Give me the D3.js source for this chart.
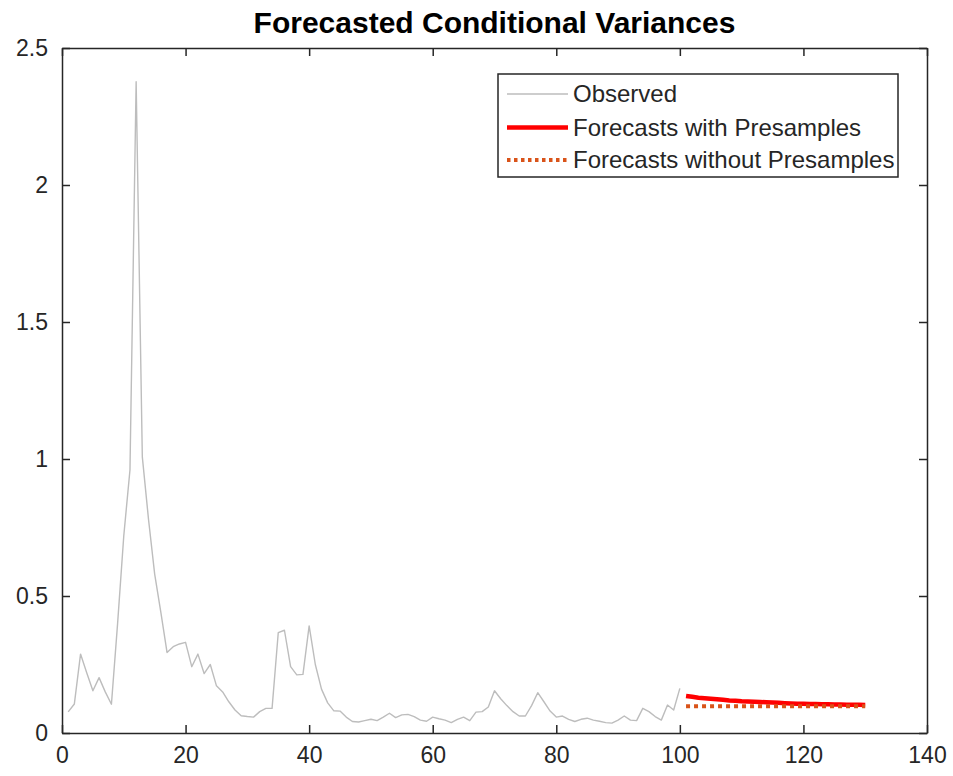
<!DOCTYPE html>
<html>
<head>
<meta charset="utf-8">
<script src="https://cdn.jsdelivr.net/npm/d3@7"></script>
<style>
  html, body { margin: 0; padding: 0; background: #fff; }
  svg { display: block; }
  text { font-family: "Liberation Sans", Arial, Helvetica, sans-serif; }
</style>
</head>
<body>
<svg id="chart" width="953" height="776"></svg>
<script>
// ---- Data ----
const observedT = d3.range(1, 101);
const observed = [
  0.077, 0.106, 0.288, 0.220, 0.154, 0.202, 0.150, 0.105, 0.400, 0.720,
  0.960, 2.377, 1.008, 0.780, 0.580, 0.440, 0.294, 0.315, 0.325, 0.331,
  0.242, 0.288, 0.217, 0.250, 0.172, 0.150, 0.114, 0.084, 0.063, 0.060,
  0.058, 0.078, 0.090, 0.090, 0.366, 0.375, 0.242, 0.212, 0.214, 0.391,
  0.250, 0.160, 0.110, 0.081, 0.080, 0.058, 0.042, 0.040, 0.045, 0.050,
  0.045, 0.058, 0.072, 0.056, 0.066, 0.068, 0.060, 0.047, 0.043, 0.058,
  0.052, 0.047, 0.038, 0.050, 0.058, 0.045, 0.076, 0.078, 0.095, 0.154,
  0.125, 0.100, 0.078, 0.062, 0.062, 0.100, 0.147, 0.114, 0.080, 0.058,
  0.062, 0.050, 0.042, 0.050, 0.054, 0.047, 0.043, 0.038, 0.036, 0.047,
  0.062, 0.047, 0.045, 0.090, 0.078, 0.060, 0.047, 0.102, 0.084, 0.163
];
const forecastT = d3.range(101, 131);
const forecastWithPresamples = [
  0.135, 0.132, 0.129, 0.127, 0.125, 0.123, 0.121, 0.119, 0.118, 0.116,
  0.115, 0.114, 0.113, 0.112, 0.111, 0.110, 0.109, 0.108, 0.107, 0.107,
  0.106, 0.106, 0.105, 0.105, 0.104, 0.104, 0.103, 0.103, 0.103, 0.102
];
const forecastWithoutPresamples = [
  0.098, 0.098, 0.098, 0.098, 0.098, 0.098, 0.098, 0.098, 0.098, 0.098,
  0.098, 0.098, 0.098, 0.098, 0.098, 0.098, 0.098, 0.098, 0.098, 0.098,
  0.098, 0.098, 0.098, 0.098, 0.098, 0.098, 0.098, 0.098, 0.098, 0.098
];
const xTicks = [0, 20, 40, 60, 80, 100, 120, 140];
const yTicks = [0, 0.5, 1, 1.5, 2, 2.5];
const yTickLabels = ["0", "0.5", "1", "1.5", "2", "2.5"];
const legendLabels = ["Observed", "Forecasts with Presamples", "Forecasts without Presamples"];
const titleText = "Forecasted Conditional Variances";

// ---- Layout ----
const W = 953, H = 776;
const L = 62, R = 927, T = 48, B = 733;
const axisColor = "#262626";

const svg = d3.select("#chart");
const x = d3.scaleLinear().domain([0, 140]).range([L, R]);
const y = d3.scaleLinear().domain([0, 2.5]).range([B, T]);

svg.append("rect").attr("x", L).attr("y", T).attr("width", R - L).attr("height", B - T).attr("fill", "#fff");

const clip = svg.append("clipPath").attr("id", "clip");
clip.append("rect").attr("x", L).attr("y", T).attr("width", R - L).attr("height", B - T);

const g = svg.append("g").attr("clip-path", "url(#clip)");
const line = d3.line().x(d => x(d[0])).y(d => y(d[1]));

g.append("path")
  .datum(observedT.map((t, i) => [t, observed[i]]))
  .attr("d", line).attr("fill", "none")
  .attr("stroke", "#bdbdbd").attr("stroke-width", 1.4).attr("stroke-linejoin", "round");

g.append("path")
  .datum(forecastT.map((t, i) => [t, forecastWithPresamples[i]]))
  .attr("d", line).attr("fill", "none")
  .attr("stroke", "#ff0000").attr("stroke-width", 4.5);

g.append("path")
  .datum(forecastT.map((t, i) => [t, forecastWithoutPresamples[i]]))
  .attr("d", line).attr("fill", "none")
  .attr("stroke", "#d95319").attr("stroke-width", 4).attr("stroke-dasharray", "4,4");

// ---- Axes ----
const tickLen = 8;
const fontSize = 23;
const axisB = d3.axisBottom(x).tickValues(xTicks).tickSizeInner(-tickLen).tickSizeOuter(0).tickPadding(14).tickFormat(d3.format("d"));
const axisT = d3.axisTop(x).tickValues(xTicks).tickSizeInner(-tickLen).tickSizeOuter(0).tickFormat("");
const axisLft = d3.axisLeft(y).tickValues(yTicks).tickSizeInner(-tickLen).tickSizeOuter(0).tickPadding(14).tickFormat((d, i) => yTickLabels[i]);
const axisRt = d3.axisRight(y).tickValues(yTicks).tickSizeInner(-tickLen).tickSizeOuter(0).tickFormat("");

function style(sel) {
  sel.select(".domain").attr("stroke", axisColor).attr("stroke-width", 1.5);
  sel.selectAll(".tick line").attr("stroke", axisColor).attr("stroke-width", 1.5);
  sel.selectAll(".tick text").attr("fill", axisColor).style("font-size", fontSize + "px")
     .style("font-family", '"Liberation Sans", Arial, sans-serif');
}
svg.append("g").attr("transform", `translate(0,${B})`).call(axisB).call(style);
svg.append("g").attr("transform", `translate(0,${T})`).call(axisT).call(style);
svg.append("g").attr("transform", `translate(${L},0)`).call(axisLft).call(style);
svg.append("g").attr("transform", `translate(${R},0)`).call(axisRt).call(style);

// ---- Title ----
svg.append("text")
  .attr("x", (L + R) / 2).attr("y", 33)
  .attr("text-anchor", "middle")
  .style("font-size", "30px").style("font-weight", "bold")
  .attr("fill", "#000")
  .text(titleText);

// ---- Legend ----
const lg = svg.append("g");
lg.append("rect").attr("x", 498).attr("y", 74).attr("width", 400).attr("height", 103)
  .attr("fill", "#fff").attr("stroke", axisColor).attr("stroke-width", 1.5);
const rowY = [94, 127.5, 160];
const legendStyles = [
  { stroke: "#bdbdbd", width: 1.4, dash: null },
  { stroke: "#ff0000", width: 4.5, dash: null },
  { stroke: "#d95319", width: 4, dash: "3.5,3.5" }
];
legendLabels.forEach((lab, i) => {
  const s = legendStyles[i];
  const ln = lg.append("line").attr("x1", 507).attr("x2", 568).attr("y1", rowY[i]).attr("y2", rowY[i])
    .attr("stroke", s.stroke).attr("stroke-width", s.width);
  if (s.dash) ln.attr("stroke-dasharray", s.dash);
  lg.append("text").attr("x", 573).attr("y", rowY[i]).attr("dy", "0.35em")
    .style("font-size", "24px").attr("fill", axisColor).text(lab);
});
</script>
</body>
</html>
